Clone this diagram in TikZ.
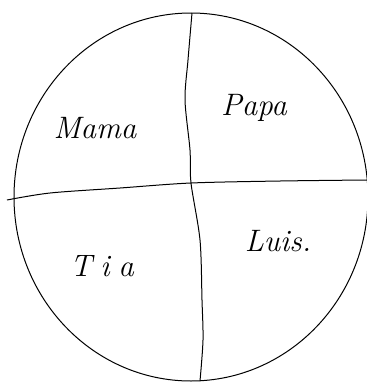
\documentclass[tikz,border=0pt]{standalone}
\usepackage{fontspec}
\begin{document}
\begin{tikzpicture}[x=1pt,y=-1pt,line width=1pt,
  hand/.style={font=\fontsize{31}{34}\selectfont\itshape}]
\useasboundingbox (0,0) rectangle (367,384);

% Circle
\draw (191,197) ellipse [x radius=177, y radius=184];

% Vertical split
\draw plot[smooth] coordinates {(192,13) (188,60) (185,100) (190,150)
  (191,183) (200,240) (202,300) (203,340) (200,381)};

% Horizontal split
\draw plot[smooth] coordinates {(7,200) (50,193) (120,188) (191,183)
  (280,181) (367,180)};

% Names
\node[hand] (mama) at (95,128) {Mama};
\node[hand] (papa) at (254,108) {Papa};
\node[hand] (tia) at (102,266) {T\;i\;a};
\node[hand] (luis) at (278,241) {Luis.};
\end{tikzpicture}
\end{document}
